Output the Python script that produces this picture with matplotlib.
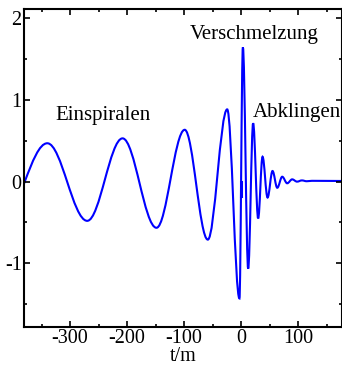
import matplotlib
matplotlib.use("Agg")
import matplotlib.pyplot as plt
from matplotlib.path import Path
from matplotlib.patches import PathPatch
from matplotlib.ticker import MultipleLocator

# peaks and troughs of the waveform (t/m, amplitude)
t_ext = [-418, -340, -270, -208, -148.5, -99, -58.5, -24.5, -3, 3, 12.3, 21,
         29.8, 37.5, 46.3, 55, 63.3, 72, 80.7, 89.5, 98, 106.5, 115, 124, 180]
h_ext = [-0.45, 0.47, -0.48, 0.53, -0.565, 0.635, -0.71, 0.885, -1.43, 1.645,
         -1.065, 0.715, -0.45, 0.305, -0.195, 0.13, -0.075, 0.06, -0.02, 0.028,
         0.0, 0.015, 0.005, 0.01, 0.008]

# small kink in the curve at t = 0
glitch_t = [0.4, 0.4]
glitch_h = [-0.01, -0.18]

phases = ["Einspiralen", "Verschmelzung", "Abklingen"]
phase_t = [-243, 23, 97]
phase_h = [0.75, 1.75, 0.79]

plt.rcParams["font.family"] = ["Liberation Serif", "DejaVu Serif"]
plt.rcParams["axes.unicode_minus"] = False

fig = plt.figure(figsize=(3.42, 3.66), dpi=100)
ax = fig.add_axes([0.0716, 0.1052, 0.927, 0.870])

# smooth wave: cubic bezier between neighbouring extrema, flat at each one
verts = [(t_ext[0], h_ext[0])]
codes = [Path.MOVETO]
for i in range(1, len(t_ext)):
    dt = t_ext[i] - t_ext[i - 1]
    verts += [(t_ext[i - 1] + 0.36 * dt, h_ext[i - 1]),
              (t_ext[i] - 0.36 * dt, h_ext[i]),
              (t_ext[i], h_ext[i])]
    codes += [Path.CURVE4] * 3
ax.add_patch(PathPatch(Path(verts, codes), facecolor="none", edgecolor="blue",
                       lw=1.5, capstyle="round"))
ax.plot(glitch_t, glitch_h, color="blue", lw=2.2)

for name, t, h in zip(phases, phase_t, phase_h):
    ax.text(t, h, name, ha="center", va="baseline", fontsize=15)

ax.set_xlim(-380, 176)
ax.set_ylim(-1.786, 2.113)
ax.xaxis.set_major_locator(MultipleLocator(100))
ax.xaxis.set_minor_locator(MultipleLocator(50))
ax.yaxis.set_major_locator(MultipleLocator(1))
ax.yaxis.set_minor_locator(MultipleLocator(0.5))
ax.tick_params(which="both", direction="in", top=True, right=True, width=1.2,
               labelsize=14.5, pad=2)
ax.tick_params(axis="x", which="both", pad=1)
ax.tick_params(which="major", length=4.5)
ax.tick_params(which="minor", length=2.5)
for s in ax.spines.values():
    s.set_linewidth(1.5)
ax.set_xlabel("t/m", fontsize=14.5, labelpad=-0.3)

fig.savefig("out.png", dpi=100)
